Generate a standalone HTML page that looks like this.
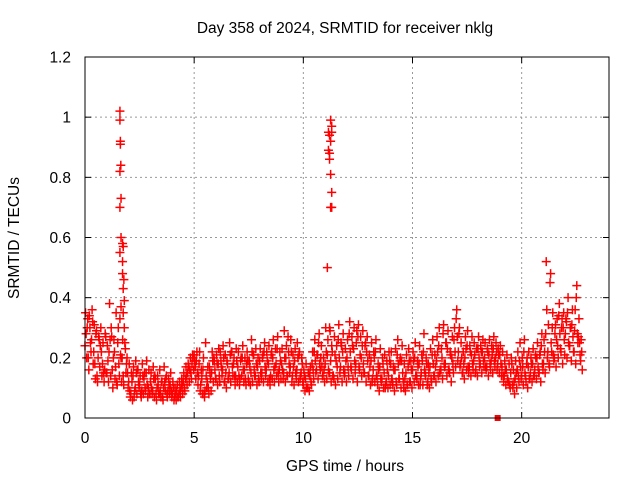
<!DOCTYPE html>
<html><head><meta charset="utf-8">
<style>
body{margin:0;background:#fff;}
svg text{font-family:"Liberation Sans",sans-serif;font-size:15.5px;fill:#000;}
</style></head>
<body>
<svg id="chart" width="640" height="480" xmlns="http://www.w3.org/2000/svg">
<rect width="640" height="480" fill="#fff"/>
<text x="345" y="33" text-anchor="middle">Day 358 of 2024, SRMTID for receiver nklg</text>
<text x="345" y="471" text-anchor="middle">GPS time / hours</text>
<text transform="translate(19,238) rotate(-90)" text-anchor="middle">SRMTID / TECUs</text>
<g id="grid"></g>
<g id="ticks"></g>
<g id="marks"></g>
<rect x="85" y="57" width="524" height="361" fill="none" stroke="#000" stroke-width="1"/>
</svg>
<script>
const xTicks=[0,5,10,15,20];
const yTicks=[0,0.2,0.4,0.6,0.8,1,1.2];
const yTickLabels=["0","0.2","0.4","0.6","0.8","1","1.2"];
const seriesA=[.24,.30,.34,.26,.22,.28,.20,.24,.18,.16,
.15,.22,.30,.20,.17,.25,.33,.20,.30,.18,
.12,.08,.14,.10,.16,.11,.09,.13,.15,.10,
.12,.09,.14,.10,.08,.12,.10,.13,.09,.11,
.08,.07,.09,.08,.10,.12,.13,.15,.16,.18,
.21,.19,.14,.11,.16,.09,.12,.17,.15,.20,
.13,.18,.22,.16,.12,.19,.15,.22,.18,.14,
.17,.13,.20,.16,.18,.12,.15,.21,.14,.17,
.19,.15,.22,.16,.18,.14,.20,.17,.23,.16,
.18,.15,.20,.27,.17,.14,.19,.16,.21,.15,
.11,.13,.10,.14,.18,.22,.16,.25,.20,.14,
.18,.21,.15,.24,.13,.19,.26,.17,.22,.15,
.20,.28,.16,.23,.18,.27,.21,.24,.15,.22,
.14,.19,.16,.22,.11,.17,.13,.15,.12,.14,
.18,.11,.16,.21,.13,.19,.10,.15,.17,.12,
.16,.20,.13,.18,.15,.22,.14,.12,.17,.21,
.14,.19,.24,.16,.28,.18,.23,.15,.20,.26,
.33,.22,.18,.15,.20,.24,.17,.21,.19,.16,
.23,.18,.22,.20,.17,.21,.19,.23,.20,.18,
.21,.17,.14,.16,.12,.15,.10,.13,.16,.19,
.14,.22,.12,.17,.15,.18,.16,.20,.15,.24,
.18,.28,.22,.45,.30,.20,.26,.34,.22,.30,
.28,.35,.24,.31,.22,.40,.27,.19];
const seriesB=[.28,.20,.25,.32,.18,.14,.26,.22,.15,.27,
.19,.26,.16,.22,.12,.18,.20,.14,.23,.15,
.09,.12,.07,.15,.12,.08,.14,.10,.11,.08,
.10,.13,.08,.11,.09,.07,.12,.08,.11,.09,
.10,.08,.07,.09,.11,.10,.14,.17,.15,.20,
.17,.15,.22,.13,.08,.14,.10,.13,.19,.16,
.18,.14,.17,.20,.15,.13,.21,.17,.14,.19,
.14,.20,.16,.13,.19,.17,.22,.16,.18,.13,
.15,.21,.17,.19,.13,.22,.16,.18,.15,.19,
.16,.20,.14,.18,.22,.17,.15,.20,.13,.18,
.14,.10,.15,.12,.16,.19,.21,.18,.17,.16,
.22,.16,.19,.14,.21,.17,.20,.24,.16,.19,
.17,.22,.24,.19,.29,.17,.20,.18,.25,.19,
.17,.12,.20,.14,.16,.13,.18,.10,.16,.19,
.13,.16,.12,.18,.20,.15,.13,.11,.19,.16,
.19,.14,.17,.11,.19,.16,.18,.15,.13,.18,
.17,.22,.15,.20,.18,.25,.16,.21,.18,.22,
.27,.30,.20,.18,.23,.17,.22,.18,.21,.23,
.20,.22,.19,.17,.22,.18,.21,.19,.22,.21,
.18,.14,.16,.13,.11,.18,.12,.15,.14,.17,
.17,.15,.20,.13,.18,.14,.20,.17,.22,.18,
.22,.36,.18,.25,.21,.31,.24,.28,.33,.26,
.32,.25,.30,.27,.36,.28,.25,.22];
const seriesC=[.35,.33,.30,.36,.31,.29,.27,.30,.25,.28,
.24,.38,.27,.26,.35,.30,.21,.26,.25,.20,
.18,.15,.17,.19,.16,.14,.18,.15,.19,.16,
.15,.17,.13,.14,.16,.12,.17,.14,.13,.15,
.12,.10,.11,.12,.13,.15,.17,.18,.20,.21,
.19,.22,.18,.16,.20,.25,.17,.15,.22,.19,
.21,.23,.19,.24,.21,.18,.25,.22,.20,.23,
.22,.19,.24,.20,.22,.19,.26,.21,.23,.20,
.23,.20,.25,.22,.24,.21,.26,.23,.27,.22,
.23,.29,.24,.22,.26,.21,.23,.25,.22,.20,
.16,.18,.15,.17,.22,.26,.21,.28,.24,.20,
.30,.26,.29,.22,.27,.24,.31,.25,.28,.23,
.26,.32,.27,.30,.25,.31,.27,.29,.24,.27,
.21,.25,.22,.26,.18,.23,.20,.21,.19,.22,
.22,.17,.23,.26,.19,.24,.18,.21,.23,.19,
.22,.25,.19,.24,.21,.28,.20,.18,.23,.26,
.21,.27,.30,.23,.31,.25,.29,.22,.27,.30,
.36,.28,.25,.22,.27,.29,.24,.27,.25,.23,
.27,.24,.26,.25,.23,.26,.24,.27,.25,.23,
.24,.22,.19,.21,.18,.20,.16,.19,.22,.25,
.20,.26,.18,.22,.20,.23,.21,.25,.21,.28,
.26,.52,.31,.48,.35,.28,.33,.38,.30,.35,
.33,.40,.30,.36,.29,.44,.33,.26];
const seriesD=[.20,.16,.22,.18,.13,.12,.17,.14,.12,.15,
.12,.14,.10,.13,.11,.14,.12,.11,.15,.10,
.07,.06,.09,.08,.10,.07,.08,.09,.07,.08,
.08,.07,.06,.08,.07,.06,.09,.07,.08,.07,
.06,.06,.07,.07,.08,.09,.11,.12,.13,.16,
.13,.11,.09,.08,.07,.10,.08,.09,.12,.13,
.11,.12,.14,.12,.10,.13,.12,.14,.11,.12,
.11,.14,.12,.11,.13,.11,.12,.14,.11,.12,
.13,.12,.14,.12,.11,.13,.12,.14,.12,.13,
.13,.12,.14,.15,.12,.11,.13,.12,.14,.12,
.09,.10,.09,.11,.13,.15,.13,.16,.14,.12,
.13,.15,.12,.14,.11,.13,.15,.12,.14,.12,
.14,.17,.13,.15,.12,.16,.14,.15,.12,.14,
.11,.13,.12,.14,.09,.12,.10,.11,.10,.11,
.12,.09,.11,.13,.10,.12,.09,.11,.12,.10,
.12,.14,.11,.13,.11,.15,.11,.10,.12,.14,
.12,.14,.16,.13,.17,.14,.16,.12,.15,.17,
.19,.17,.15,.13,.16,.15,.14,.16,.15,.14,
.17,.15,.17,.16,.14,.16,.15,.17,.16,.15,
.14,.12,.11,.12,.10,.11,.08,.10,.12,.13,
.11,.14,.10,.13,.12,.14,.13,.15,.12,.16,
.15,.20,.17,.22,.19,.17,.20,.23,.18,.21,
.20,.24,.19,.22,.18,.25,.21,.16];
const spikeTimes=[1.6,1.6,1.62,1.62,1.64,1.6,1.65,1.6,1.65,1.6,1.72,1.75,1.72,1.72,1.78,1.75,1.8,1.65,1.75,
11.25,11.3,11.15,11.2,11.3,11.25,11.15,11.2,11.2,11.25,11.3,11.25,11.3,11.1,11.2];
const spikeValues=[1.02,0.99,0.92,0.91,0.84,0.82,0.73,0.70,0.60,0.55,0.58,0.57,0.52,0.48,0.46,0.43,0.39,0.37,0.35,
0.99,0.97,0.95,0.94,0.95,0.92,0.89,0.88,0.86,0.81,0.75,0.70,0.70,0.50,0.30];
const zeroTimes=[18.9];
const zeroValues=[0];
const X0=85,X1=609,Y0=418,Y1=57,XMAX=24,YMAX=1.2;
const sx=t=>X0+(X1-X0)*t/XMAX;
const sy=v=>Y0-(Y0-Y1)*v/YMAX;
const NS="http://www.w3.org/2000/svg";
function mk(tag,parent,attrs){const e=document.createElementNS(NS,tag);for(const k in attrs)e.setAttribute(k,attrs[k]);parent.appendChild(e);return e;}
const grid=document.getElementById('grid'),ticks=document.getElementById('ticks'),marks=document.getElementById('marks');
xTicks.forEach(t=>{const x=sx(t);
 if(t>0){const g=mk('line',grid,{x1:x,x2:x,y1:Y1,y2:Y0,stroke:'#999','stroke-dasharray':'2,3'});
 
 }
 mk('line',ticks,{x1:x,x2:x,y1:Y0,y2:Y0-6,stroke:'#000'});
 mk('line',ticks,{x1:x,x2:x,y1:Y1,y2:Y1+6,stroke:'#000'});
 const l=mk('text',ticks,{x:x,y:Y0+25,'text-anchor':'middle'});l.textContent=t;
 
 
});
yTicks.forEach((v,i)=>{const y=sy(v);
 if(v>0&&v<YMAX){const g=mk('line',grid,{x1:X0,x2:X1,y1:y,y2:y,stroke:'#999','stroke-dasharray':'2,3'});
 
 }
 mk('line',ticks,{x1:X0,x2:X0+6,y1:y,y2:y,stroke:'#000'});
 mk('line',ticks,{x1:X1,x2:X1-6,y1:y,y2:y,stroke:'#000'});
 const l=mk('text',ticks,{x:X0-14,y:y+5.5,'text-anchor':'end'});l.textContent=yTickLabels[i];
 
 
});
function plus(t,v){const x=sx(t),y=sy(v);
 const p=mk('path',marks,{d:`M${x-4.5},${y}H${x+4.5}M${x},${y-4.5}V${y+4.5}`,stroke:'#f00','stroke-width':1.5,fill:'none'});
 
 
}
seriesD.forEach((v,i)=>plus(i*0.1+0.075,v));
seriesC.forEach((v,i)=>plus(i*0.1+0.025,v));
seriesA.forEach((v,i)=>plus(i*0.1,v));
seriesB.forEach((v,i)=>plus(i*0.1+0.05,v));
spikeTimes.forEach((t,i)=>plus(t,spikeValues[i]));
zeroTimes.forEach((t,i)=>{
 const r=mk('rect',marks,{x:sx(t)-3,y:sy(zeroValues[i])-3,width:6,height:6,fill:'#f00'});
 
 
});
</script>
</body></html>
